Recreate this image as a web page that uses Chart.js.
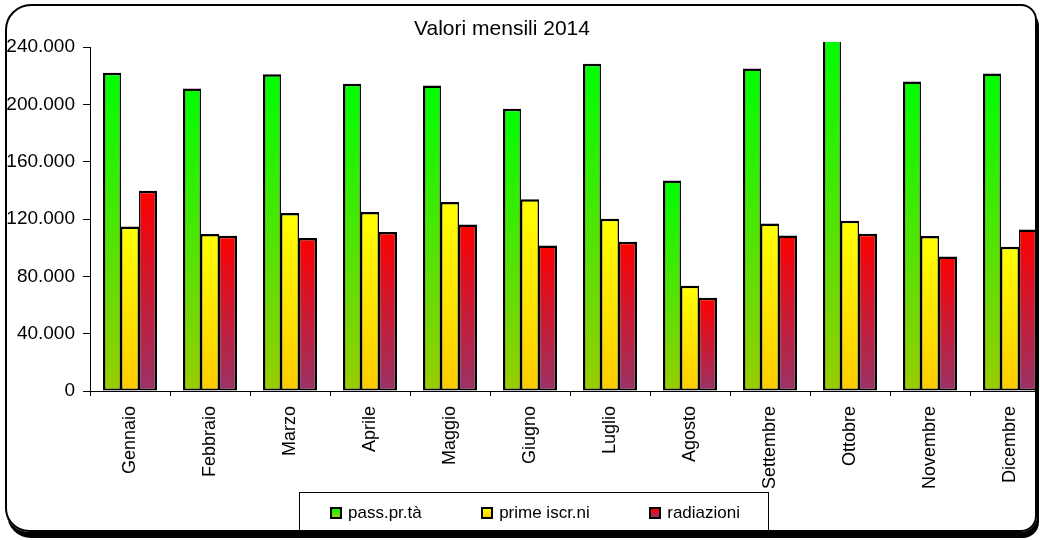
<!DOCTYPE html>
<html lang="it">
<head>
<meta charset="UTF-8">
<title>Valori mensili 2014</title>
<script src="https://cdn.jsdelivr.net/npm/chart.js"></script>
<style>
    html, body { margin: 0; padding: 0; background: #fff; overflow: hidden; }
    body { position: relative; width: 1040px; height: 540px; font-family: "Liberation Sans", Arial, sans-serif; }
    #plot { position: absolute; left: 0; top: 0; width: 1036px; height: 540px; overflow: hidden; }
    #titolo { position: absolute; left: 0; top: 17px; width: 1004px; text-align: center; font-size: 21px; line-height: 21px; color: #000; }
    #legenda { position: absolute; left: 299px; top: 492px; width: 470px; height: 41px; box-sizing: border-box;
        border: 1px solid #000; display: flex; align-items: center; justify-content: space-between;
        padding: 0 28px 0 30px; font-family: "Liberation Sans Narrow", "Arial Narrow", "Liberation Sans", Arial, sans-serif;
        font-size: 17px; color: #000; }
    #legenda .voce { display: flex; align-items: center; }
    #legenda .quadro { width: 12px; height: 12px; box-sizing: border-box; border: 2px solid #000; margin-right: 6px; }
    #cornice { position: absolute; left: 5px; top: 4px; width: 1032px; height: 528px; box-sizing: border-box;
        border: 2px solid #000; border-radius: 26px 16px 16px 24px; box-shadow: 2px 6px 0 #000; pointer-events: none; }
</style>
</head>
<body>
<div id="plot"><canvas id="grafico" width="1050" height="540"></canvas></div>
<div id="titolo">Valori mensili 2014</div>
<div id="legenda"></div>
<div id="cornice"></div>
<script>
    const mesi = ['Gennaio', 'Febbraio', 'Marzo', 'Aprile', 'Maggio', 'Giugno',
        'Luglio', 'Agosto', 'Settembre', 'Ottobre', 'Novembre', 'Dicembre'];
    const passaggi = [222000, 211000, 221000, 214300, 213100, 197000, 228300, 146900, 225000, 250000, 215900, 221500];
    const primeIscrizioni = [114800, 109500, 124200, 124900, 131800, 133700, 120200, 73400, 116900, 118800, 108100, 100600];
    const radiazioni = [139700, 108300, 106700, 110900, 116200, 101500, 104100, 65000, 108500, 109700, 93800, 112700];
    const nomiSerie = ['pass.pr.tà', 'prime iscr.ni', 'radiazioni'];

    const coloreAlto = ['#00ff00', '#ffff00', '#ff0000'];
    const coloreBasso = ['#99cc00', '#ffcc00', '#993366'];

    Chart.defaults.font.family = '"Liberation Sans", Arial, sans-serif';
    Chart.defaults.color = '#000';

    // gradiente dall'alto della barra fino allo zero
    function sfumatura(i) {
        return function (c) {
            const chart = c.chart;
            if (c.type !== 'data' || !chart.chartArea) return coloreAlto[i];
            const y = chart.scales.y;
            const g = chart.ctx.createLinearGradient(0, y.getPixelForValue(c.raw), 0, y.getPixelForValue(0));
            g.addColorStop(0, coloreAlto[i]);
            g.addColorStop(1, coloreBasso[i]);
            return g;
        };
    }

    const legendaHtml = {
        id: 'legendaHtml',
        afterUpdate(chart) {
            const box = document.getElementById('legenda');
            box.innerHTML = '';
            chart.data.datasets.forEach(function (ds, i) {
                const voce = document.createElement('div');
                voce.className = 'voce';
                const q = document.createElement('span');
                q.className = 'quadro';
                q.style.background = 'linear-gradient(' + coloreAlto[i] + ', ' + coloreBasso[i] + ')';
                const t = document.createElement('span');
                t.textContent = ds.label;
                voce.appendChild(q);
                voce.appendChild(t);
                box.appendChild(voce);
            });
        }
    };

    new Chart(document.getElementById('grafico'), {
        type: 'bar',
        data: {
            labels: mesi,
            datasets: [
                {
                    label: nomiSerie[0],
                    data: passaggi,
                    backgroundColor: sfumatura(0),
                    borderWidth: {top: 2.5, left: 2.5, right: 1.5, bottom: 2},
                },
                {
                    label: nomiSerie[1],
                    data: primeIscrizioni,
                    backgroundColor: sfumatura(1),
                    borderWidth: {top: 2.5, left: 1.5, right: 1.5, bottom: 2},
                },
                {
                    label: nomiSerie[2],
                    data: radiazioni,
                    backgroundColor: sfumatura(2),
                    borderWidth: {top: 2.5, left: 1.5, right: 2.5, bottom: 2},
                },
            ],
        },
        options: {
            responsive: false,
            animation: false,
            devicePixelRatio: 1,
            layout: {
                padding: {left: 7, top: 47, right: 0, bottom: 0},
            },
            datasets: {
                bar: {
                    categoryPercentage: 0.675,
                    barPercentage: 1,
                    borderColor: '#000',
                    borderSkipped: false,
                    clip: 5,
                },
            },
            plugins: {
                legend: {display: false},
                title: {display: false},
                tooltip: {enabled: false},
            },
            scales: {
                x: {
                    grid: {drawOnChartArea: false, color: '#000', tickLength: 5, offset: true},
                    border: {color: '#000'},
                    ticks: {minRotation: 90, maxRotation: 90, padding: 10, font: {size: 18}, color: '#000'},
                    afterFit: function (s) { s.height = 149; },
                },
                y: {
                    min: 0,
                    max: 240000,
                    grid: {drawOnChartArea: false, color: '#000', tickLength: 7},
                    border: {color: '#000'},
                    ticks: {
                        stepSize: 40000,
                        padding: 8,
                        font: {size: 19},
                        color: '#000',
                        callback: function (v) { return v === 0 ? '0' : (v / 1000) + '.000'; },
                    },
                    afterFit: function (s) { s.width = 83; },
                },
            },
        },
        plugins: [legendaHtml],
    });
</script>
</body>
</html>
